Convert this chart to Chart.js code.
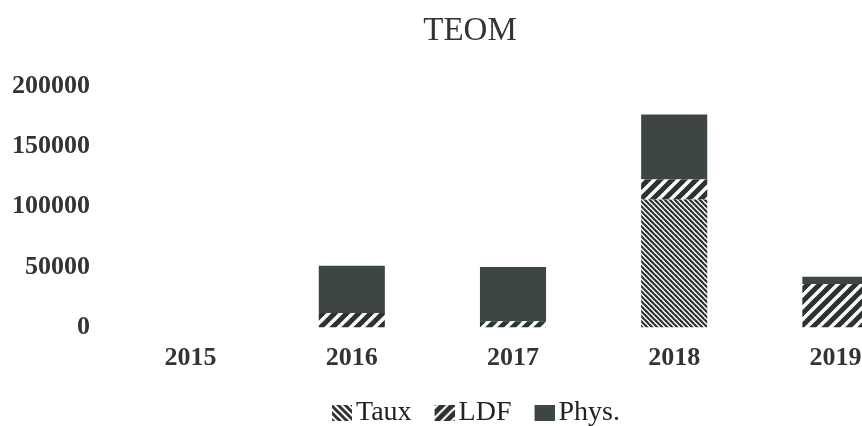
<!DOCTYPE html>
<html>
<head>
<meta charset="utf-8">
<script src="https://cdn.jsdelivr.net/npm/chart.js@4"></script>
<style>
  html, body { margin: 0; padding: 0; background: #fff; overflow: hidden; }
  #wrap { width: 940px; height: 437px; }
</style>
</head>
<body>
<div id="wrap"><canvas id="teomChart" width="940" height="437"></canvas></div>
<script>
const years = ['2015', '2016', '2017', '2018', '2019'];
const taux = [0, 0, 0, 106000, 0];
const ldf = [0, 12000, 5000, 16500, 36000];
const phys = [0, 39000, 45000, 54000, 6000];
const yTicks = [0, 50000, 100000, 150000, 200000];

const inkColor = '#2c3231';
const physColor = '#3e4644';

// tuile hachurée (dir = 1 : "\" , dir = -1 : "/")
function hatchTile(size, lineW, dir) {
    const c = document.createElement('canvas');
    c.width = size;
    c.height = size;
    const g = c.getContext('2d');
    g.fillStyle = '#fff';
    g.fillRect(0, 0, size, size);
    g.strokeStyle = inkColor;
    g.lineWidth = lineW;
    g.lineCap = 'square';
    for (let k = -1; k <= 1; k++) {
        g.beginPath();
        if (dir > 0) {
            g.moveTo(k * size, 0);
            g.lineTo(k * size + size, size);
        } else {
            g.moveTo(k * size, size);
            g.lineTo(k * size + size, 0);
        }
        g.stroke();
    }
    return c;
}

function makePattern(tile) {
    return document.createElement('canvas').getContext('2d').createPattern(tile, 'repeat');
}

// icône de légende : carré 20x16 collé à droite d'une image de 42px,
// pour rapprocher l'icône du texte
function legendIcon(fill) {
    const c = document.createElement('canvas');
    c.width = 42;
    c.height = 16;
    const g = c.getContext('2d');
    g.fillStyle = typeof fill === 'string' ? fill : g.createPattern(fill, 'repeat');
    g.fillRect(22, 0, 20, 16);
    return c;
}

const tauxFill = makePattern(hatchTile(5, 2.2, 1));
const ldfFill = makePattern(hatchTile(12, 5, -1));
const icons = [
    legendIcon(hatchTile(7, 3, 1)),
    legendIcon(hatchTile(10, 5, -1)),
    legendIcon(physColor)
];

const serif = '"Liberation Serif", "DejaVu Serif", serif';

const ctx = document.getElementById('teomChart').getContext('2d');
new Chart(ctx, {
    type: 'bar',
    data: {
        labels: years,
        datasets: [
            { label: 'Taux', data: taux, backgroundColor: tauxFill, borderWidth: 0 },
            { label: 'LDF', data: ldf, backgroundColor: ldfFill, borderWidth: 0 },
            { label: 'Phys.', data: phys, backgroundColor: physColor, borderWidth: 0 }
        ]
    },
    options: {
        responsive: false,
        animation: false,
        layout: {
            padding: { left: 12, right: 12, top: 0, bottom: 0 }
        },
        datasets: {
            bar: { categoryPercentage: 1, barPercentage: 0.41 }
        },
        plugins: {
            title: {
                display: true,
                text: 'TEOM',
                color: '#333',
                font: { family: serif, size: 33, weight: 'normal', lineHeight: 1.2 },
                padding: { top: 11.5, bottom: 35 }
            },
            legend: {
                position: 'bottom',
                labels: {
                    color: '#222',
                    font: { family: serif, size: 28, lineHeight: 1.2 },
                    usePointStyle: true,
                    pointStyleWidth: 22,
                    boxHeight: 16,
                    padding: 11,
                    generateLabels: function(chart) {
                        const items = Chart.defaults.plugins.legend.labels.generateLabels(chart);
                        return items.map((item, i) => Object.assign(item, { pointStyle: icons[i] }));
                    }
                }
            },
            tooltip: { enabled: false }
        },
        scales: {
            x: {
                stacked: true,
                grid: { display: false, drawTicks: false },
                border: { display: false },
                ticks: {
                    color: '#333',
                    padding: 15,
                    font: { family: serif, size: 26, weight: 'bold', lineHeight: 1.2 }
                },
                afterFit: function(scale) {
                    scale.height = 60.6;
                }
            },
            y: {
                stacked: true,
                min: 0,
                max: 200000,
                grid: { display: false, drawTicks: false },
                border: { display: false },
                afterBuildTicks: function(scale) {
                    scale.ticks = yTicks.map(v => ({ value: v }));
                },
                afterFit: function(scale) {
                    scale.width = 98;
                },
                ticks: {
                    color: '#333',
                    padding: 20,
                    font: { family: serif, size: 26, weight: 'bold', lineHeight: 1.2 },
                    callback: v => String(v)
                }
            },
            // axe vide à droite, seulement pour garder la marge
            yRight: {
                position: 'right',
                grid: { display: false, drawTicks: false },
                border: { display: false },
                ticks: { display: false },
                afterFit: function(scale) {
                    scale.width = 12;
                }
            }
        }
    }
});
</script>
</body>
</html>
